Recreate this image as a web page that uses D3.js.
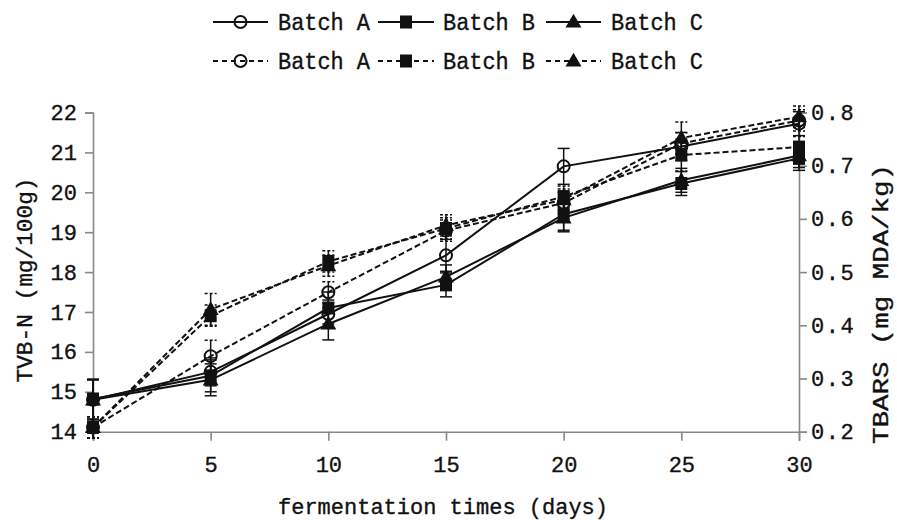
<!DOCTYPE html>
<html><head><meta charset="utf-8">
<script src="https://cdn.jsdelivr.net/npm/d3@7/dist/d3.min.js"></script>
<style>body{margin:0;background:#fff}svg{display:block}text{font-family:"Liberation Mono",monospace;fill:#111;stroke:#111;stroke-width:0.35px}</style>
</head><body><svg id="c" width="897" height="520"></svg>
<script>
const days = [0, 5, 10, 15, 20, 25, 30];
const batches = ["Batch A", "Batch B", "Batch C"];
const tvbA = [14.8, 15.5, 16.95, 18.42, 20.65, 21.15, 21.72];
const tvbB = [14.82, 15.4, 17.1, 17.68, 19.45, 20.22, 20.85];
const tvbC = [14.8, 15.3, 16.7, 17.88, 19.36, 20.3, 20.92];
const tvbErrA = [0.5, 0.35, 0.35, 0.4, 0.45, 0.35, 0.3];
const tvbErrB = [0.5, 0.4, 0.4, 0.3, 0.4, 0.3, 0.3];
const tvbErrC = [0.5, 0.4, 0.4, 0.3, 0.35, 0.3, 0.3];
const tbarsA = [0.208, 0.342, 0.462, 0.578, 0.63, 0.742, 0.785];
const tbarsB = [0.208, 0.418, 0.52, 0.582, 0.642, 0.72, 0.735];
const tbarsC = [0.208, 0.43, 0.512, 0.588, 0.636, 0.752, 0.792];
const tbarsErrA = [0.02, 0.03, 0.02, 0.02, 0.02, 0.02, 0.02];
const tbarsErrB = [0.02, 0.02, 0.02, 0.02, 0.02, 0.03, 0.02];
const tbarsErrC = [0.02, 0.03, 0.02, 0.02, 0.02, 0.03, 0.02];
const xTicks = [0, 5, 10, 15, 20, 25, 30];
const yLeftTicks = [14, 15, 16, 17, 18, 19, 20, 21, 22];
const yRightTicks = [0.2, 0.3, 0.4, 0.5, 0.6, 0.7, 0.8];

const svg = d3.select("#c");
const x = d3.scaleLinear().domain([0, 30]).range([93, 799]);
const yL = d3.scaleLinear().domain([14, 22]).range([431.7, 112.5]);
const yR = d3.scaleLinear().domain([0.2, 0.8]).range([431.7, 112.5]);
const axisColor = "#888";

// axes
const gx = svg.append("g").attr("transform", "translate(0,431.7)")
  .call(d3.axisBottom(x).tickValues(xTicks).tickSize(9).tickPadding(16).tickFormat(d3.format("d")));
const gl = svg.append("g").attr("transform", "translate(93,0)")
  .call(d3.axisLeft(yL).tickValues(yLeftTicks).tickSize(8).tickPadding(8).tickFormat(d3.format("d")));
const gr = svg.append("g").attr("transform", "translate(799,0)")
  .call(d3.axisRight(yR).tickValues(yRightTicks).tickSize(8).tickPadding(4).tickFormat(d3.format(".1f")));
[gx, gl, gr].forEach(g => {
  g.select(".domain").attr("stroke", axisColor).attr("stroke-width", 1.6);
  g.selectAll(".tick line").attr("stroke", axisColor).attr("stroke-width", 1.6);
  g.selectAll(".tick text").attr("font-size", 22).attr("fill", "#111")
    .style("font-family", '"Liberation Mono", monospace');
});
gr.selectAll(".tick text").attr("letter-spacing", 1.5);

// titles
svg.append("text").attr("x", 443).attr("y", 514).attr("text-anchor", "middle")
  .attr("font-size", 22).attr("textLength", 330).attr("lengthAdjust", "spacingAndGlyphs")
  .text("fermentation times (days)");
svg.append("text").attr("transform", "translate(32,280) rotate(-90)").attr("text-anchor", "middle")
  .attr("font-size", 22).attr("textLength", 205).attr("lengthAdjust", "spacingAndGlyphs")
  .text("TVB-N (mg/100g)");
svg.append("text").attr("transform", "translate(888,304) rotate(-90)").attr("text-anchor", "middle")
  .attr("font-size", 22).attr("textLength", 280).attr("lengthAdjust", "spacingAndGlyphs")
  .text("TBARS (mg MDA/kg)");

const series = [
  {vals: tbarsA, err: tbarsErrA, y: yR, dash: "6,3", shape: "circle"},
  {vals: tbarsB, err: tbarsErrB, y: yR, dash: "6,3", shape: "square"},
  {vals: tbarsC, err: tbarsErrC, y: yR, dash: "6,3", shape: "triangle"},
  {vals: tvbA, err: tvbErrA, y: yL, dash: null, shape: "circle"},
  {vals: tvbB, err: tvbErrB, y: yL, dash: null, shape: "square"},
  {vals: tvbC, err: tvbErrC, y: yL, dash: null, shape: "triangle"}
];

function drawMarker(g, shape, cx, cy) {
  if (shape === "circle") {
    g.append("circle").attr("cx", cx).attr("cy", cy).attr("r", 6)
      .attr("fill", "none").attr("stroke", "#111").attr("stroke-width", 2);
  } else if (shape === "square") {
    g.append("rect").attr("x", cx - 6).attr("y", cy - 6.5).attr("width", 12).attr("height", 13).attr("fill", "#111");
  } else {
    g.append("path").attr("d", d3.symbol(d3.symbolTriangle, 110)()).attr("transform", `translate(${cx},${cy + 1})`).attr("fill", "#111");
  }
}

const plot = svg.append("g");
series.forEach(s => {
  const pts = days.map((d, i) => ({d, v: s.vals[i], e: s.err[i]}));
  const g = plot.append("g");
  pts.forEach(p => {
    const x0 = x(p.d), y1 = s.y(p.v + p.e), y2 = s.y(p.v - p.e);
    g.append("line").attr("x1", x0).attr("x2", x0).attr("y1", y1).attr("y2", y2).attr("stroke", "#111").attr("stroke-width", 1.5);
    [y1, y2].forEach(yy => g.append("line").attr("x1", x0 - 6).attr("x2", x0 + 6).attr("y1", yy).attr("y2", yy)
      .attr("stroke", "#111").attr("stroke-width", 1.5).attr("stroke-dasharray", s.dash ? "3,2" : null));
  });
  g.append("path").datum(pts)
    .attr("d", d3.line().x(p => x(p.d)).y(p => s.y(p.v)))
    .attr("fill", "none").attr("stroke", "#111").attr("stroke-width", 2)
    .attr("stroke-dasharray", s.dash);
  pts.forEach(p => drawMarker(g, s.shape, x(p.d), s.y(p.v)));
});

// legend
const legX = [{l: 213, r: 268, t: 278}, {l: 378, r: 434, t: 443}, {l: 546, r: 601, t: 611}];
const rows = [{y: 22, dash: null}, {y: 61, dash: "5,4"}];
const shapes = ["circle", "square", "triangle"];
const leg = svg.append("g");
rows.forEach(row => {
  batches.forEach((b, i) => {
    const p = legX[i];
    leg.append("line").attr("x1", p.l).attr("x2", p.r).attr("y1", row.y).attr("y2", row.y)
      .attr("stroke", "#111").attr("stroke-width", 2).attr("stroke-dasharray", row.dash);
    drawMarker(leg, shapes[i], (p.l + p.r) / 2, row.y);
    leg.append("text").attr("x", p.t).attr("y", row.y + 8).attr("font-size", 23)
      .attr("textLength", 92).attr("lengthAdjust", "spacingAndGlyphs").text(b);
  });
});
</script></body></html>
